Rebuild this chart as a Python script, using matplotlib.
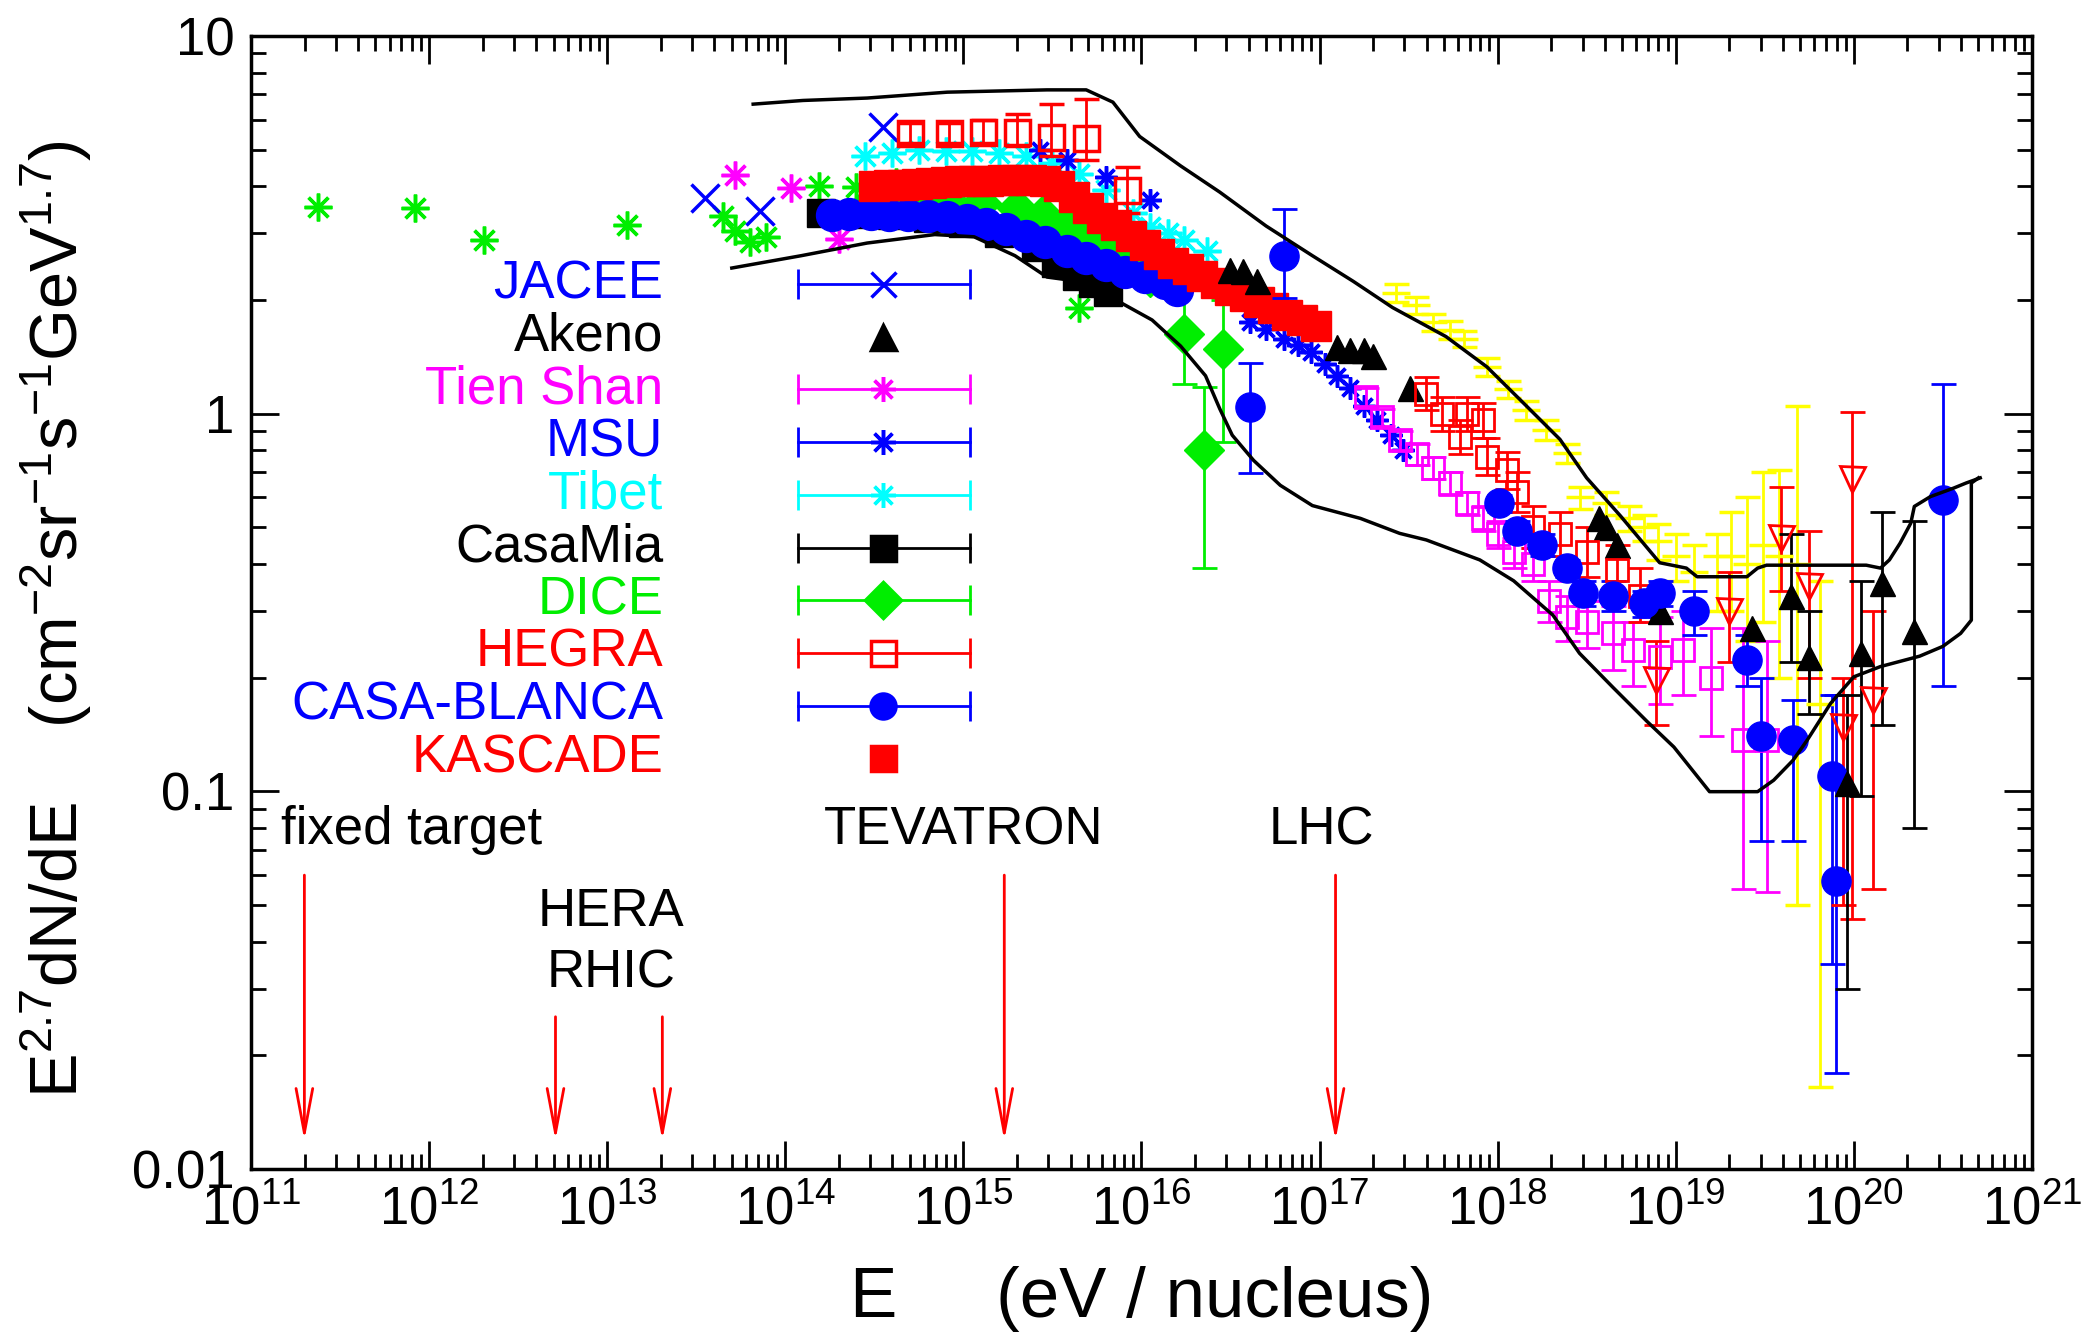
import numpy as np
import matplotlib
matplotlib.use("Agg")
import matplotlib.pyplot as plt
from matplotlib.ticker import LogLocator, FuncFormatter, NullFormatter

plt.rcParams['font.family'] = ['Liberation Sans', 'DejaVu Sans']
plt.rcParams['mathtext.fontset'] = 'custom'
plt.rcParams['mathtext.rm'] = 'Liberation Sans'
plt.rcParams['mathtext.it'] = 'Liberation Sans:italic'
plt.rcParams['mathtext.bf'] = 'Liberation Sans:bold'

BLUE, RED, GREEN = '#0000ff', '#ff0000', '#00ee00'
MAGENTA, CYAN, YELLOW, BLACK = '#ff00ff', '#00ffff', '#ffff00', '#000000'
AST = (8, 2, 0)  # gnuplot style asterisk

# ---- data (log10 of energy in eV, flux E^2.7 dN/dE) ----
upper_env_logE = [13.82, 14.10, 14.46, 14.91, 15.47, 15.69, 15.84, 15.99, 16.22, 16.44, 16.70,
                  16.96, 17.19, 17.41, 17.71, 17.94, 18.16, 18.35, 18.50, 18.69, 18.91, 19.06,
                  19.12, 19.40, 19.46, 19.51, 20.07, 20.15, 20.20, 20.26, 20.32, 20.34, 20.43,
                  20.56, 20.63, 20.71]
upper_env_flux = [6.6, 6.75, 6.85, 7.1, 7.2, 7.2, 6.68, 5.42, 4.53, 3.86, 3.14, 2.62, 2.24,
                  1.91, 1.60, 1.33, 1.05, 0.855, 0.676, 0.536, 0.403, 0.39, 0.37, 0.37, 0.39,
                  0.397, 0.397, 0.39, 0.41, 0.454, 0.513, 0.568, 0.603, 0.635, 0.655, 0.676]

lower_env_logE = [13.70, 14.09, 14.46, 14.84, 15.06, 15.29, 15.47, 15.65, 15.84, 16.06, 16.22,
                  16.36, 16.44, 16.51, 16.63, 16.78, 16.96, 17.23, 17.45, 17.60, 17.90, 18.09,
                  18.31, 18.46, 18.65, 18.84, 18.99, 19.19, 19.46, 19.55, 19.66, 19.74, 19.87,
                  20.00, 20.15, 20.37, 20.50, 20.60, 20.66, 20.66, 20.70]
lower_env_flux = [2.43, 2.62, 2.83, 2.98, 2.94, 2.62, 2.30, 2.24, 2.02, 1.77, 1.51, 1.26,
                  1.03, 0.877, 0.752, 0.646, 0.571, 0.528, 0.482, 0.463, 0.410, 0.361, 0.293,
                  0.232, 0.188, 0.153, 0.131, 0.0998, 0.0998, 0.107, 0.121, 0.137, 0.171,
                  0.201, 0.214, 0.228, 0.242, 0.262, 0.284, 0.655, 0.676]

other_green_logE = [11.376, 11.92, 12.31, 13.11, 13.65, 13.72, 13.80, 13.89, 14.19, 14.40,
                    14.62, 14.85, 15.05, 15.65]
other_green_flux = [3.53, 3.50, 2.89, 3.16, 3.33, 3.04, 2.85, 2.94, 4.0, 3.98, 4.1, 3.9, 3.8, 1.9]

jacee_logE = [13.55, 13.86, 14.55]
jacee_flux = [3.73, 3.43, 5.75]

tienshan_logE = [13.72, 14.03, 14.30]
tienshan_flux = [4.29, 3.96, 2.90]

tibet_logE = [14.45, 14.60, 14.75, 14.90, 15.05, 15.20, 15.35, 15.50, 15.65, 15.80, 15.95,
              16.05, 16.15, 16.24, 16.37]
tibet_flux = [4.8, 4.9, 5.0, 4.95, 4.95, 4.9, 4.8, 4.6, 4.3, 3.9, 3.4, 3.13, 3.0, 2.88, 2.7]

msu_logE = [15.43, 15.58, 15.80, 16.05, 16.61, 16.70, 16.80, 16.88, 16.95, 17.03, 17.10, 17.17,
            17.25, 17.32, 17.40, 17.47]
msu_flux = [5.0, 4.7, 4.24, 3.68, 1.75, 1.68, 1.58, 1.52, 1.46, 1.35, 1.26, 1.17, 1.05, 0.96,
            0.88, 0.80]

casamia_logE = [14.20, 14.40, 14.60, 14.80, 15.00, 15.20, 15.41, 15.52, 15.64, 15.73, 15.81]
casamia_flux = [3.40, 3.38, 3.35, 3.30, 3.20, 3.00, 2.77, 2.51, 2.31, 2.22, 2.10]

dice_logE = [14.50, 14.70, 14.90, 15.10, 15.30, 15.45, 15.58, 15.68, 15.77, 15.86, 15.95, 16.05]
dice_flux = [3.70, 3.72, 3.70, 3.62, 3.50, 3.35, 3.20, 3.00, 2.83, 2.66, 2.50, 2.30]
dice_err_logE = [16.24, 16.35, 16.46]
dice_err_flux = [1.63, 0.80, 1.48]
dice_err_lo = [1.20, 0.39, 0.84]
dice_err_hi = [2.35, 1.18, 2.00]

blanca_logE = [14.26, 14.36, 14.48, 14.58, 14.69, 14.80, 14.91, 15.02, 15.13, 15.24, 15.35,
               15.46, 15.58, 15.69, 15.80, 15.91, 16.02, 16.13, 16.20]
blanca_flux = [3.36, 3.37, 3.37, 3.36, 3.35, 3.34, 3.32, 3.26, 3.18, 3.08, 2.96, 2.85, 2.70,
               2.58, 2.47, 2.37, 2.30, 2.22, 2.13]

kascade_logE = [14.50, 14.58, 14.66, 14.74, 14.82, 14.90, 14.98, 15.06, 15.14, 15.22, 15.30,
                15.38, 15.46, 15.54, 15.62, 15.70, 15.78, 15.86, 15.94, 16.02, 16.10, 16.18,
                16.26, 16.34, 16.42, 16.50, 16.58, 16.66, 16.74, 16.82, 16.90, 16.98]
kascade_flux = [4.00, 4.02, 4.04, 4.06, 4.08, 4.10, 4.12, 4.13, 4.14, 4.15, 4.15, 4.15, 4.12,
                4.00, 3.75, 3.50, 3.30, 3.15, 2.95, 2.80, 2.65, 2.50, 2.42, 2.32, 2.22, 2.13,
                2.05, 1.98, 1.90, 1.83, 1.77, 1.71]

hegra_logE = [14.70, 14.92, 15.11, 15.30, 15.49, 15.69, 15.92]
hegra_flux = [5.53, 5.53, 5.58, 5.58, 5.41, 5.37, 3.91]
hegra_lo = [5.2, 5.2, 5.2, 5.1, 4.8, 4.7, 3.4]
hegra_hi = [5.9, 5.9, 6.0, 6.2, 6.6, 6.8, 4.5]

akeno_logE = [16.50, 16.57, 16.65, 17.10, 17.17, 17.25, 17.30, 17.51, 18.57, 18.61, 18.67,
              18.91, 19.43]
akeno_flux = [2.40, 2.38, 2.24, 1.50, 1.47, 1.47, 1.42, 1.17, 0.53, 0.50, 0.45, 0.30, 0.27]
akeno_err_logE = [19.65, 19.75, 19.96, 20.04, 20.16, 20.34]
akeno_err_flux = [0.33, 0.227, 0.105, 0.232, 0.356, 0.265]
akeno_err_lo = [0.22, 0.16, 0.030, 0.097, 0.15, 0.08]
akeno_err_hi = [0.48, 0.30, 0.18, 0.36, 0.55, 0.52]

blue_circ_logE = [16.80, 16.61, 18.01, 18.11, 18.25, 18.39, 18.48, 18.65, 18.82, 18.91, 19.10,
                  19.40, 19.48, 19.66, 19.88, 19.90, 20.50]
blue_circ_flux = [2.62, 1.04, 0.58, 0.49, 0.45, 0.39, 0.335, 0.33, 0.316, 0.335, 0.30, 0.223,
                  0.14, 0.137, 0.11, 0.058, 0.59]
blue_circ_lo = [2.02, 0.695, 0.55, 0.46, 0.42, 0.37, 0.31, 0.30, 0.29, 0.31, 0.26, 0.19,
                0.074, 0.074, 0.035, 0.018, 0.19]
blue_circ_hi = [3.48, 1.36, 0.61, 0.52, 0.48, 0.41, 0.36, 0.36, 0.34, 0.36, 0.34, 0.26,
                0.20, 0.174, 0.18, 0.18, 1.20]

magenta_sq_logE = [17.26, 17.35, 17.45, 17.55, 17.64, 17.73, 17.83, 17.92, 18.00, 18.09, 18.20,
                   18.29, 18.39, 18.50, 18.65, 18.76, 18.91, 19.04, 19.20, 19.38, 19.51]
magenta_sq_flux = [1.11, 0.98, 0.85, 0.78, 0.72, 0.655, 0.58, 0.53, 0.48, 0.43, 0.40, 0.32,
                   0.29, 0.28, 0.262, 0.237, 0.227, 0.237, 0.20, 0.137, 0.137]
magenta_sq_lo = [1.05, 0.93, 0.80, 0.73, 0.67, 0.61, 0.54, 0.49, 0.44, 0.39, 0.36, 0.28,
                 0.25, 0.24, 0.21, 0.19, 0.17, 0.18, 0.14, 0.055, 0.054]
magenta_sq_hi = [1.17, 1.03, 0.90, 0.83, 0.77, 0.70, 0.62, 0.57, 0.52, 0.47, 0.44, 0.36,
                 0.33, 0.32, 0.31, 0.28, 0.29, 0.30, 0.27, 0.27, 0.25]

red_sq_logE = [17.60, 17.69, 17.79, 17.83, 17.92, 17.94, 18.05, 18.11, 18.20, 18.35, 18.50,
               18.67, 18.80]
red_sq_flux = [1.13, 1.00, 0.87, 1.00, 0.96, 0.77, 0.71, 0.62, 0.50, 0.48, 0.43, 0.385, 0.33]
red_sq_lo = [1.02, 0.90, 0.78, 0.90, 0.86, 0.69, 0.63, 0.55, 0.44, 0.42, 0.37, 0.33, 0.28]
red_sq_hi = [1.25, 1.11, 0.96, 1.11, 1.07, 0.86, 0.79, 0.70, 0.57, 0.55, 0.50, 0.45, 0.39]

red_tri_logE = [18.89, 19.30, 19.59, 19.75, 19.94, 19.99, 20.11]
red_tri_flux = [0.197, 0.30, 0.47, 0.35, 0.148, 0.67, 0.174]
red_tri_lo = [0.15, 0.22, 0.34, 0.20, 0.05, 0.046, 0.055]
red_tri_hi = [0.25, 0.38, 0.64, 0.49, 0.20, 1.01, 0.30]

yellow_logE = [17.43, 17.54, 17.64, 17.73, 17.81, 17.94, 18.06, 18.16, 18.27, 18.39, 18.46,
               18.61, 18.74, 18.82, 18.90, 19.00, 19.10, 19.23, 19.31, 19.40, 19.49, 19.58,
               19.68, 19.81]
yellow_flux = [2.09, 1.94, 1.75, 1.67, 1.58, 1.33, 1.16, 1.02, 0.906, 0.787, 0.60, 0.58, 0.53,
               0.50, 0.46, 0.42, 0.38, 0.42, 0.42, 0.40, 0.45, 0.42, 0.40, 0.17]
yellow_lo = [1.98, 1.84, 1.66, 1.58, 1.50, 1.26, 1.10, 0.96, 0.85, 0.74, 0.56, 0.54, 0.49,
             0.46, 0.41, 0.36, 0.31, 0.30, 0.30, 0.25, 0.28, 0.20, 0.05, 0.0165]
yellow_hi = [2.20, 2.04, 1.84, 1.76, 1.66, 1.40, 1.22, 1.08, 0.96, 0.83, 0.64, 0.62, 0.57,
             0.54, 0.51, 0.48, 0.45, 0.48, 0.55, 0.60, 0.70, 0.71, 1.05, 0.36]

# accelerator arrows
acc_names = ['fixed target', 'HERA', 'RHIC', 'TEVATRON', 'LHC']
acc_logE = [11.30, 12.71, 13.31, 15.23, 17.09]
acc_top = [0.060, 0.0253, 0.0253, 0.060, 0.060]
acc_bottom = 0.0119

legend_names = ['JACEE', 'Akeno', 'Tien Shan', 'MSU', 'Tibet', 'CasaMia', 'DICE', 'HEGRA',
                'CASA-BLANCA', 'KASCADE']
legend_colors = [BLUE, BLACK, MAGENTA, BLUE, CYAN, BLACK, GREEN, RED, BLUE, RED]
legend_markers = ['x', '^', AST, AST, AST, 's', 'D', 's', 'o', 's']
legend_bars = [True, False, True, True, True, True, True, True, True, False]


def E(v):
    return 10 ** np.asarray(v, dtype=float)


def yerr(f, lo, hi):
    f = np.asarray(f)
    return [f - np.asarray(lo), np.asarray(hi) - f]


fig = plt.figure(figsize=(20.93, 13.38), dpi=100)
ax = fig.add_axes([0.1199, 0.1263, 0.8509, 0.8468])
ax.set_xscale('log')
ax.set_yscale('log')

ms = 20
eb = dict(elinewidth=2, capsize=9, capthick=2, linestyle='none')

# envelopes
ax.plot(E(upper_env_logE), upper_env_flux, color='k', lw=2.5, zorder=6)
ax.plot(E(lower_env_logE), lower_env_flux, color='k', lw=2.5, zorder=6)

# low-energy / knee region
ax.plot(E(other_green_logE), other_green_flux, ls='none', marker=AST, ms=ms, mew=2.5, color=GREEN)
ax.plot(E(tibet_logE), tibet_flux, ls='none', marker=AST, ms=ms, mew=2.5, color=CYAN)
ax.plot(E(msu_logE), msu_flux, ls='none', marker=AST, ms=ms * 0.8, mew=2.5, color=BLUE)
ax.plot(E(tienshan_logE), tienshan_flux, ls='none', marker=AST, ms=ms, mew=2.5, color=MAGENTA)
ax.plot(E(jacee_logE), jacee_flux, ls='none', marker='x', ms=ms, mew=2.5, color=BLUE)
ax.plot(E(casamia_logE), casamia_flux, ls='none', marker='s', ms=ms, color=BLACK)
ax.plot(E(dice_logE), dice_flux, ls='none', marker='D', ms=ms, color=GREEN)
ax.errorbar(E(dice_err_logE), dice_err_flux, yerr=yerr(dice_err_flux, dice_err_lo, dice_err_hi),
            fmt='D', ms=ms, color=GREEN, **eb)
ax.plot(E(blanca_logE), blanca_flux, ls='none', marker='o', ms=ms + 3, color=BLUE)
ax.plot(E(kascade_logE), kascade_flux, ls='none', marker='s', ms=ms + 2, color=RED)
ax.errorbar(E(hegra_logE), hegra_flux, yerr=yerr(hegra_flux, hegra_lo, hegra_hi),
            fmt='s', ms=ms - 2, mfc='none', mew=2.5, color=RED, **eb)

# high energy
ax.errorbar(E(yellow_logE), yellow_flux, yerr=yerr(yellow_flux, yellow_lo, yellow_hi),
            fmt='_', ms=ms, mew=2.5, color=YELLOW, **eb)
ax.errorbar(E(magenta_sq_logE), magenta_sq_flux,
            yerr=yerr(magenta_sq_flux, magenta_sq_lo, magenta_sq_hi),
            fmt='s', ms=ms - 4, mfc='none', mew=2, color=MAGENTA, **eb)
ax.errorbar(E(red_sq_logE), red_sq_flux, yerr=yerr(red_sq_flux, red_sq_lo, red_sq_hi),
            fmt='s', ms=ms - 4, mfc='none', mew=2, color=RED, **eb)
ax.errorbar(E(blue_circ_logE), blue_circ_flux,
            yerr=yerr(blue_circ_flux, blue_circ_lo, blue_circ_hi),
            fmt='o', ms=ms + 1, color=BLUE, **eb)
ax.errorbar(E(red_tri_logE), red_tri_flux, yerr=yerr(red_tri_flux, red_tri_lo, red_tri_hi),
            fmt='v', ms=ms - 2, mfc='none', mew=2, color=RED, **eb)
ax.plot(E(akeno_logE), akeno_flux, ls='none', marker='^', ms=ms - 2, color=BLACK)
ax.errorbar(E(akeno_err_logE), akeno_err_flux,
            yerr=yerr(akeno_err_flux, akeno_err_lo, akeno_err_hi),
            fmt='^', ms=ms - 2, color=BLACK, **eb)

# accelerator arrows and labels
for name, lx, top in zip(acc_names, acc_logE, acc_top):
    ax.annotate('', xy=(E(lx), acc_bottom), xytext=(E(lx), top),
                arrowprops=dict(arrowstyle='->,head_length=3.2,head_width=0.6', color=RED,
                                lw=2, mutation_scale=10, shrinkA=0, shrinkB=0))
tfs = 38
ax.text(E(11.17), 0.079, 'fixed target', fontsize=tfs, ha='left', va='center')
ax.text(E(15.0), 0.079, 'TEVATRON', fontsize=tfs, ha='center', va='center')
ax.text(E(17.01), 0.079, 'LHC', fontsize=tfs, ha='center', va='center')
ax.text(E(13.02), 0.048, 'HERA', fontsize=tfs, ha='center', va='center')
ax.text(E(13.02), 0.033, 'RHIC', fontsize=tfs, ha='center', va='center')

# hand-made legend (axes fraction)
y0, dy = 0.781, 0.0465
for i, (nm, c, m, bar) in enumerate(zip(legend_names, legend_colors, legend_markers,
                                        legend_bars)):
    yy = y0 - i * dy
    ax.text(0.2316, yy, nm, color=c, fontsize=tfs, ha='right', va='center',
            transform=ax.transAxes)
    if bar:
        ax.plot([0.307, 0.404], [yy, yy], color=c, lw=2, transform=ax.transAxes)
        ax.plot([0.307, 0.404], [yy, yy], ls='none', marker='|', ms=22, mew=2, color=c,
                transform=ax.transAxes)
    mfc = 'none' if nm == 'HEGRA' else c
    ax.plot([0.355], [yy], ls='none', marker=m, ms=18, mew=2.5, color=c, mfc=mfc,
            transform=ax.transAxes)

ax.set_xlim(1e11, 1e21)
ax.set_ylim(0.01, 10)
ax.xaxis.set_major_locator(LogLocator(base=10, numticks=20))
ax.xaxis.set_minor_locator(LogLocator(base=10, subs=np.arange(2, 10), numticks=20))
ax.xaxis.set_minor_formatter(NullFormatter())
ax.yaxis.set_major_formatter(FuncFormatter(lambda v, _: f'{v:g}'))
ax.yaxis.set_minor_formatter(NullFormatter())
ax.tick_params(which='both', direction='in', top=True, right=True, width=2, labelsize=tfs)
ax.tick_params(which='major', length=20)
ax.tick_params(which='minor', length=11)
ax.tick_params(axis='x', pad=12)
ax.tick_params(axis='y', pad=12)
for s in ax.spines.values():
    s.set_linewidth(2.5)

ax.set_xlabel('E     (eV / nucleus)', fontsize=51, labelpad=22)
ax.set_ylabel(r'E$^{2.7}$dN/dE    (cm$^{-2}$sr$^{-1}$s$^{-1}$GeV$^{1.7}$)', fontsize=48)
ax.yaxis.set_label_coords(-0.088, 0.485)

fig.savefig('out.png', dpi=100)
